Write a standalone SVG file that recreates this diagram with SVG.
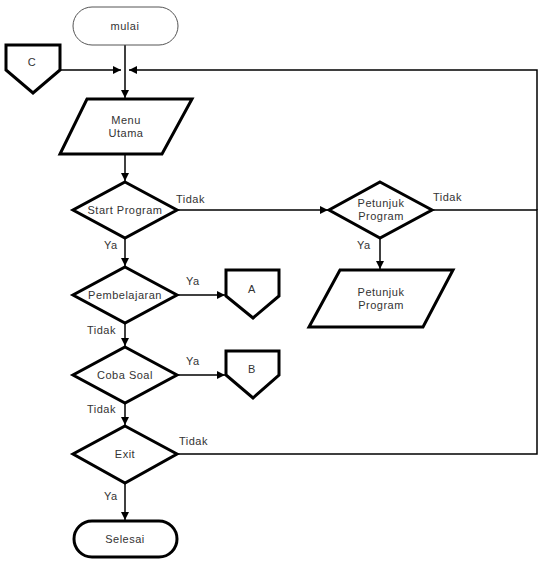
<svg xmlns="http://www.w3.org/2000/svg" width="540" height="581" viewBox="0 0 540 581">
<style>
.s{fill:#fff;stroke:#000;stroke-width:3;stroke-linejoin:miter}
.t{stroke:#555;stroke-width:1;fill:#fff}
.c{fill:none;stroke:#000;stroke-width:1.5}
text{font-family:"Liberation Sans",Arial,sans-serif;font-size:11px;fill:#333;letter-spacing:0.5px}
.m{text-anchor:middle}
</style>
<defs>
<marker id="a" viewBox="0 0 10 10" refX="10" refY="5" markerWidth="8" markerHeight="8" markerUnits="userSpaceOnUse" orient="auto">
<path d="M0,0L10,5L0,10z" fill="#000"/>
</marker>
</defs>
<g id="connectors">
<path class="c" d="M125,45V98" marker-end="url(#a)"/>
<path class="c" d="M60,70H121" marker-end="url(#a)"/>
<path class="c" d="M537,210V70H129" marker-end="url(#a)"/>
<path class="c" d="M125,154V181" marker-end="url(#a)"/>
<path class="c" d="M177,210H328" marker-end="url(#a)"/>
<path class="c" d="M432,210H537V454H177"/>
<path class="c" d="M380,238V269" marker-end="url(#a)"/>
<path class="c" d="M125,238V266" marker-end="url(#a)"/>
<path class="c" d="M177,295H225" marker-end="url(#a)"/>
<path class="c" d="M125,323V346" marker-end="url(#a)"/>
<path class="c" d="M177,375H225" marker-end="url(#a)"/>
<path class="c" d="M125,403V425" marker-end="url(#a)"/>
<path class="c" d="M125,483V520" marker-end="url(#a)"/>
<text x="176" y="203">Tidak</text>
<text x="433" y="201">Tidak</text>
<text x="357" y="249">Ya</text>
<text x="104" y="249">Ya</text>
<text x="186" y="285">Ya</text>
<text x="87" y="334">Tidak</text>
<text x="186" y="365">Ya</text>
<text x="87" y="413">Tidak</text>
<text x="179" y="445">Tidak</text>
<text x="104" y="500">Ya</text>
</g>
<g id="mulai"><rect class="t" x="73" y="7" width="105" height="38" rx="19"/><text class="m" x="125" y="30">mulai</text></g>
<g id="C"><path class="s" d="M6,45H60V70L33,93L6,70Z"/><text class="m" x="32" y="66">C</text></g>
<g id="menu"><path class="s" d="M87,99H192L162,154H60Z"/><text class="m" x="126" y="124">Menu</text><text class="m" x="126" y="137">Utama</text></g>
<g id="start"><path class="s" d="M125,182L177,210L125,238L73,210Z"/><text class="m" x="125" y="214">Start Program</text></g>
<g id="petunjukD"><path class="s" d="M380,182L432,210L380,238L329,210Z"/><text class="m" x="381" y="207">Petunjuk</text><text class="m" x="381" y="220">Program</text></g>
<g id="petunjukP"><path class="s" d="M340,270H453L423,327H309Z"/><text class="m" x="381" y="296">Petunjuk</text><text class="m" x="381" y="309">Program</text></g>
<g id="pembelajaran"><path class="s" d="M125,267L177,295L125,323L73,295Z"/><text class="m" x="125" y="299">Pembelajaran</text></g>
<g id="A"><path class="s" d="M226,270H279V296L253,318L226,296Z"/><text class="m" x="252" y="293">A</text></g>
<g id="coba"><path class="s" d="M125,347L177,375L125,403L73,375Z"/><text class="m" x="125" y="379">Coba Soal</text></g>
<g id="B"><path class="s" d="M226,351H279V375L253,398L226,375Z"/><text class="m" x="252" y="373">B</text></g>
<g id="exit"><path class="s" d="M125,426L177,454L125,483L73,454Z"/><text class="m" x="125" y="458">Exit</text></g>
<g id="selesai"><rect class="s" x="74" y="521" width="103" height="36" rx="18"/><text class="m" x="125" y="543">Selesai</text></g>
</svg>
